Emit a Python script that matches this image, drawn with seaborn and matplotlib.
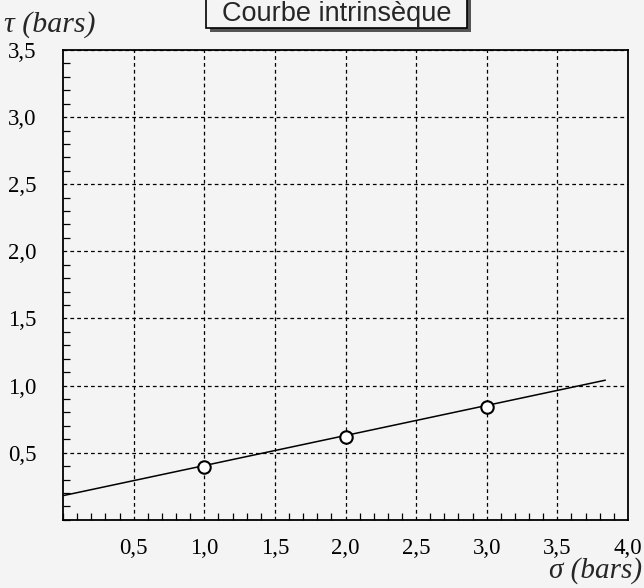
import matplotlib
matplotlib.use("Agg")
import matplotlib.pyplot as plt
import seaborn as sns
import pandas as pd
from matplotlib.patches import Rectangle
from matplotlib.ticker import MultipleLocator, FixedLocator

# ── Data ──────────────────────────────────────────────────────────────────────
sigma_pts = [1.0, 2.0, 3.0]
tau_pts = [0.39, 0.62, 0.84]

line_sigma = [0.0, 3.84]
line_tau = [0.18, 1.04]

tick_vals = [0.5, 1.0, 1.5, 2.0, 2.5, 3.0, 3.5, 4.0]
tick_labels = ["0,5", "1,0", "1,5", "2,0", "2,5", "3,0", "3,5", "4,0"]

title = "Courbe intrinsèque"
xlabel = "σ (bars)"
ylabel = "τ (bars)"

# ── Style ─────────────────────────────────────────────────────────────────────
sns.set_theme(style="white")
plt.rcParams["font.family"] = ["Liberation Serif", "DejaVu Serif"]
paper = "#f4f4f4"

fig = plt.figure(figsize=(6.44, 5.88), dpi=100, facecolor=paper)
ax = fig.add_axes([0.098, 0.116, 0.877, 0.799], facecolor=paper)

pts = pd.DataFrame({"sigma": sigma_pts, "tau": tau_pts})
fit = pd.DataFrame({"sigma": line_sigma, "tau": line_tau})

sns.lineplot(data=fit, x="sigma", y="tau", color="black", lw=1.1, ax=ax, zorder=3)
sns.scatterplot(data=pts, x="sigma", y="tau", s=80, facecolor="white",
                edgecolor="black", linewidth=1.5, ax=ax, zorder=4)

ax.set_xlim(0, 4.0)
ax.set_ylim(0, 3.5)

ax.xaxis.set_major_locator(FixedLocator(tick_vals))
ax.yaxis.set_major_locator(FixedLocator(tick_vals[:7]))
ax.set_xticklabels(tick_labels)
ax.set_yticklabels(tick_labels[:7])
ax.xaxis.set_minor_locator(MultipleLocator(0.1))
ax.yaxis.set_minor_locator(MultipleLocator(0.1))

ax.grid(True, which="major", color="black", linestyle=(0, (3, 2.5)), lw=0.9)
ax.tick_params(which="major", length=0, labelsize=16.5, colors="black")
ax.tick_params(axis="x", which="major", pad=13)
ax.tick_params(axis="y", which="major", pad=19)
ax.tick_params(which="minor", direction="in", length=5, width=0.9, color="black",
               bottom=True, left=True, top=False, right=False)

for s in ax.spines.values():
    s.set_color("black")
    s.set_linewidth(1.3)

ax.set_xlabel("")
ax.set_ylabel("")

fig.text(0.006, 0.958, ylabel, fontsize=21.5, style="italic", ha="left", va="center")
fig.text(0.997, 0.03, xlabel, fontsize=21, style="italic", ha="right", va="center")

# title box with drop shadow
bx0, bx1, by0 = 0.320, 0.725, 0.953
fig.patches.append(Rectangle((bx0 + 0.006, by0 - 0.007), bx1 - bx0, 0.1,
                             transform=fig.transFigure, facecolor="#555555",
                             edgecolor="none", zorder=1))
fig.patches.append(Rectangle((bx0, by0), bx1 - bx0, 0.1,
                             transform=fig.transFigure, facecolor=paper,
                             edgecolor="black", lw=1.2, zorder=2))
fig.text((bx0 + bx1) / 2, 0.9635, title, fontsize=19.5, ha="center",
         va="baseline", family=["Liberation Sans", "DejaVu Sans"], zorder=3)

fig.savefig("out.png", dpi=100, facecolor=paper)
